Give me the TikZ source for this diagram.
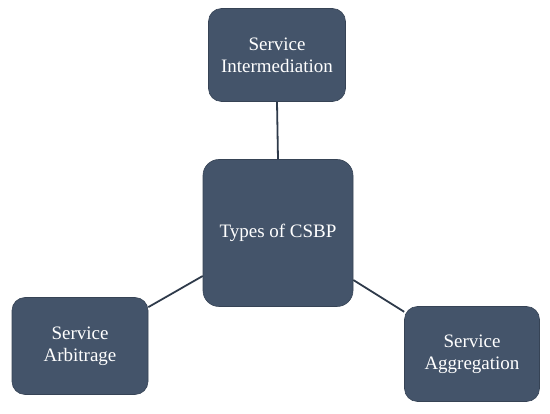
\documentclass[tikz,border=0pt]{standalone}
\usepackage{fontspec}
\setmainfont{Liberation Serif}
\usetikzlibrary{positioning}
\definecolor{boxblue}{HTML}{44546A}
\definecolor{linkgray}{HTML}{2E3A4A}
\tikzset{
  typebox/.style={
    rectangle,
    rounded corners=13pt,
    fill=boxblue,
    draw=boxblue!80!black,
    line width=0.6pt,
    text=white,
    align=center,
    inner sep=2pt,
    font=\fontsize{19}{22}\selectfont
  },
  link/.style={
    draw=linkgray,
    line width=1.8pt
  }
}
\begin{document}
\begin{tikzpicture}[x=1pt,y=-1pt]
\useasboundingbox (0,0) rectangle (550,414);

\node[typebox, minimum width=150pt, minimum height=147pt, rounded corners=16pt] (csbp) at (278,233) {Types of CSBP};
\node[typebox, minimum width=137pt, minimum height=93pt] (intermediation) at (277,55) {Service\\Intermediation};
\node[typebox, minimum width=136pt, minimum height=97pt] (arbitrage) at (80,346) {Service\\Arbitrage};
\node[typebox, minimum width=135pt, minimum height=95pt] (aggregation) at (472,354) {Service\\Aggregation};

\draw[link] (csbp.north) -- (intermediation.south);
\draw[link] (csbp) -- (arbitrage);
\draw[link] (csbp) -- (aggregation);

\end{tikzpicture}
\end{document}
